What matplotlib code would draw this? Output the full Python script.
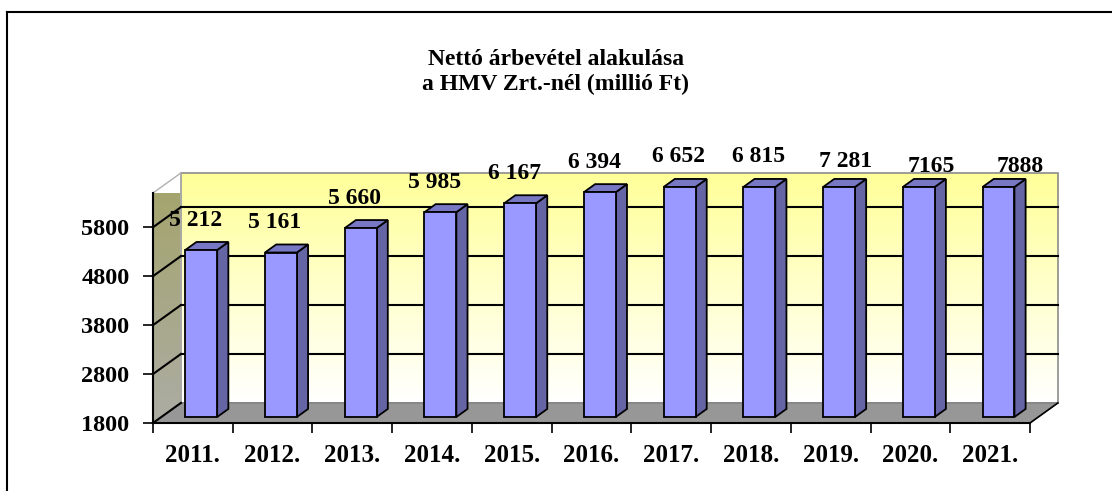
import matplotlib.pyplot as plt
import numpy as np
from matplotlib.patches import Polygon
from matplotlib.colors import LinearSegmentedColormap
from matplotlib.lines import Line2D

years = ['2011.', '2012.', '2013.', '2014.', '2015.', '2016.',
         '2017.', '2018.', '2019.', '2020.', '2021.']
values = [5212, 5161, 5660, 5985, 6167, 6394, 6652, 6815, 7281, 7165, 7888]
value_labels = ['5 212', '5 161', '5 660', '5 985', '6 167', '6 394',
                '6 652', '6 815', '7 281', '7165', '7888']
yticks = [1800, 2800, 3800, 4800, 5800]

plt.rcParams['font.family'] = ['Liberation Serif', 'DejaVu Serif']
plt.rcParams['font.weight'] = 'bold'

YMIN, YMAX = 1800, 6500
DX, DY = 0.35, 410          # depth offset of back wall (category units, value units)
F0, F1 = 0.3, 0.7           # bar depth range as fraction of depth
BW = 0.4                    # bar width
# hand-placed label nudges (pixels) as in the original
label_dx = [0, 0, 0, 0, 0, 0, 5, 5, 12, 18, 28]
label_dy = [0, 0, 0, 0, 0, 0, 0, 0, -5, -10, -10]

fig = plt.figure(figsize=(11.12, 4.91), dpi=100)
ax = fig.add_axes([153/1112, 68/491, 877/1112, 230/491])
n = len(years)
x0, x1 = -0.5, n - 0.5
ax.set_xlim(x0, x1)
ax.set_ylim(YMIN, YMAX)
for s in ax.spines.values():
    s.set_visible(False)
ax.patch.set_visible(False)

# back wall with yellow gradient
wall_cmap = LinearSegmentedColormap.from_list('wall', ['#ffffff', '#ffff99'])
grad = np.linspace(0, 1, 256).reshape(-1, 1)
ax.imshow(grad, cmap=wall_cmap, origin='lower', aspect='auto',
          extent=[x0 + DX, x1 + DX, YMIN + DY, YMAX + DY], clip_on=False, zorder=0)
ax.add_patch(Polygon([(x0 + DX, YMIN + DY), (x1 + DX, YMIN + DY), (x1 + DX, YMAX + DY),
                      (x0 + DX, YMAX + DY)], closed=True, fill=False,
                     edgecolor='#8c8c8c', lw=1.2, clip_on=False, zorder=1))

# left side wall (olive to grey)
side_cmap = LinearSegmentedColormap.from_list('side', ['#acaca4', '#a4a46a'])
side_poly = Polygon([(x0, YMIN), (x0 + DX, YMIN + DY), (x0 + DX, YMAX + DY), (x0, YMAX)],
                    closed=True, facecolor='none', edgecolor='#b0b0b0', lw=1.0,
                    clip_on=False, zorder=1)
ax.add_patch(side_poly)
im = ax.imshow(grad, cmap=side_cmap, origin='lower', aspect='auto',
               extent=[x0, x0 + DX, YMIN, YMAX + DY], clip_on=True, zorder=0.5)
im.set_clip_path(side_poly)

# floor
ax.add_patch(Polygon([(x0, YMIN), (x1, YMIN), (x1 + DX, YMIN + DY), (x0 + DX, YMIN + DY)],
                     closed=True, facecolor='#979797', edgecolor='#7a7a7a', lw=0.8,
                     clip_on=False, zorder=1))
ax.plot([x1, x1 + DX], [YMIN, YMIN + DY], color='black', lw=1.2, clip_on=False, zorder=2)

# gridlines on back wall and side wall
for t in yticks:
    if t > YMIN:
        ax.plot([x0 + DX, x1 + DX], [t + DY, t + DY], color='black', lw=1.5,
                clip_on=False, zorder=2)
    ax.plot([x0, x0 + DX], [t, t + DY], color='black', lw=1.5, clip_on=False, zorder=2)

# bars
front_c, side_c, top_c = '#9999ff', '#6565a5', '#7777c4'
for i, v in enumerate(values):
    h = min(v, YMAX)
    fx = i - BW / 2 + F0 * DX
    fy = YMIN + F0 * DY
    ty = h + F0 * DY
    ddx, ddy = (F1 - F0) * DX, (F1 - F0) * DY
    ax.add_patch(Polygon([(fx + BW, fy), (fx + BW + ddx, fy + ddy), (fx + BW + ddx, ty + ddy),
                          (fx + BW, ty)], closed=True, facecolor=side_c, edgecolor='black',
                         lw=1.3, clip_on=False, zorder=3))
    ax.add_patch(Polygon([(fx, ty), (fx + BW, ty), (fx + BW + ddx, ty + ddy), (fx + ddx, ty + ddy)],
                         closed=True, facecolor=top_c, edgecolor='black', lw=1.3,
                         clip_on=False, zorder=3))
    ax.add_patch(Polygon([(fx, fy), (fx + BW, fy), (fx + BW, ty), (fx, ty)], closed=True,
                         facecolor=front_c, edgecolor='black', lw=1.3, clip_on=False, zorder=4))
    ax.annotate(value_labels[i], (i + F0 * DX * 0.3, ty),
                xytext=(label_dx[i], 30 + label_dy[i]),
                textcoords='offset pixels', ha='center', va='center',
                fontsize=17, fontweight='bold', annotation_clip=False, zorder=5)

# axes lines and ticks
ax.plot([x0, x1], [YMIN, YMIN], color='black', lw=1.5, clip_on=False, zorder=5)
ax.plot([x0, x0], [YMIN, YMAX], color='black', lw=1.5, clip_on=False, zorder=5)
ax.set_yticks(yticks)
ax.set_yticklabels([str(t) for t in yticks], fontsize=17.5, fontweight='bold')
ax.set_xticks(np.arange(n + 1) - 0.5, minor=True)
ax.set_xticks(np.arange(n))
ax.set_xticklabels(years, fontsize=18, fontweight='bold')
ax.tick_params(axis='x', which='major', length=0, pad=15)
ax.tick_params(axis='x', which='minor', length=7, width=1.2, direction='out')
ax.tick_params(axis='y', length=7, width=1.2, direction='out', pad=10)

fig.text(0.5, 1 - 72/491, 'Nettó árbevétel alakulása\na HMV Zrt.-nél (millió Ft)',
         ha='center', va='center', fontsize=17, fontweight='bold', linespacing=1.2)

# chart frame (top and left edges visible)
fig.add_artist(Line2D([7/1112, 1.0], [1 - 12/491, 1 - 12/491], color='black', lw=1.5))
fig.add_artist(Line2D([7/1112, 7/1112], [0.0, 1 - 12/491], color='black', lw=1.5))

fig.savefig('out.png', dpi=100)
